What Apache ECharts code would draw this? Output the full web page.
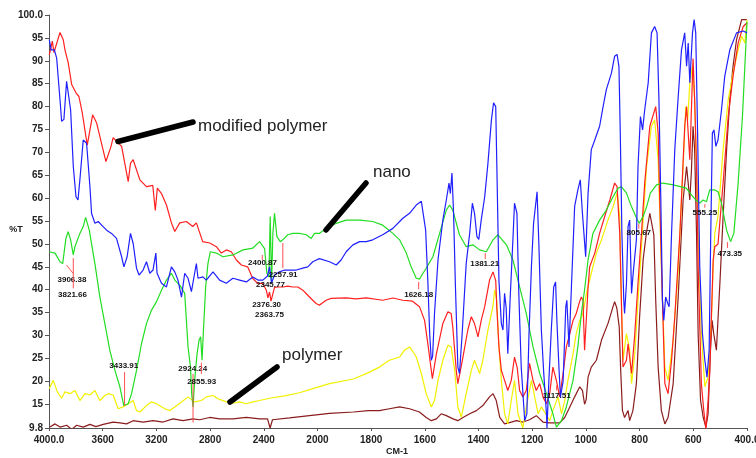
<!DOCTYPE html>
<html>
<head>
<meta charset="utf-8">
<script src="https://cdn.jsdelivr.net/npm/echarts@6/dist/echarts.min.js"></script>
<style>
html,body{margin:0;padding:0;background:#fff;}
#chart{width:756px;height:458px;}
</style>
</head>
<body>
<div id="chart"></div>
<script>
// ---- Data: [wavenumber (cm-1), %T] ----
const redData = [[3998,91.3],[3975,94.3],[3963,91.8],[3918,96.2],[3894,94.6],[3881,92.4],[3857,89.6],[3831,84.8],[3799,83],[3777,82.2],[3752,78.6],[3715,71.6],[3675,78.2],[3645,76.4],[3576,68],[3539,71.2],[3522,73.2],[3459,71.3],[3410,63.6],[3393,67.6],[3373,68.4],[3323,64],[3274,62.5],[3227,62.8],[3208,57.3],[3193,62.2],[3162,61],[3125,58.5],[3088,54.6],[3063,52.7],[3026,54.6],[2976,54.9],[2929,53.8],[2902,54.6],[2855,50.5],[2803,50.2],[2753,49.4],[2716,48],[2679,48.7],[2642,48.3],[2604,46.5],[2567,45.4],[2520,45],[2483,42.5],[2446,41.4],[2407,41.4],[2381,39.9],[2369,38.2],[2357,39.5],[2346,37.5],[2320,40.5],[2295,40.6],[2258,40.6],[2221,40.8],[2184,40.6],[2146,40.6],[2109,39.9],[2072,38.8],[2035,37.7],[2010,37],[1993,36.6],[1968,37.7],[1949,38.1],[1893,38.2],[1856,38],[1818,38.2],[1757,37.7],[1719,38.2],[1682,37.7],[1646,37.5],[1620,36.3],[1601,33.3],[1589,28.3],[1572,20.6],[1557,26],[1533,32.6],[1514,35.2],[1502,34.8],[1496,31.9],[1483,22.4],[1477,19.5],[1458,25.3],[1440,31.2],[1427,34.1],[1415,32.6],[1402,29.7],[1390,33.3],[1377,36.3],[1359,42.1],[1346,43.9],[1336,42],[1332,36.3],[1324,27.5],[1315,22.4],[1303,20.2],[1291,18],[1278,20.2],[1266,25.3],[1256,23],[1247,18],[1235,16.6],[1222,18],[1210,23.9],[1197,20.2],[1185,18],[1172,19.5],[1160,16.6],[1147,15.1],[1135,17.3],[1123,23.1],[1110,20.2],[1098,16.6],[1085,21.7],[1073,27.5],[1060,30.4],[1048,33.3],[1036,34.8],[1023,37.5],[1017,38.4],[1011,37.7],[1005,26.8],[998,34.1],[992,40.6],[986,45],[967,48],[949,52.3],[930,56],[911,59.6],[893,63.3],[884,62.5],[874,52.3],[868,37.7],[862,23.1],[849,24.6],[843,28.2],[830,21.7],[818,30.4],[806,41.4],[793,52.3],[781,63.3],[762,75.7],[740,80],[731,74.2],[725,59.6],[715,37.7],[706,19.5],[694,17.3],[681,24.6],[669,34.1],[650,52.3],[632,75.7],[625,80],[613,68.4],[601,90.5],[595,81.5],[588,66.9],[582,45],[570,19.5],[561,13.6],[553,9.5],[545,15.8],[539,22],[526,46.5],[520,49.4],[508,50],[489,63.3],[470,77.8],[452,86.6],[433,93.9],[414,97.5],[400,98.3]];

const blueData = [[3998,94.6],[3984,92.4],[3960,92.4],[3943,90.6],[3918,81.5],[3906,76.8],[3889,77.2],[3869,85.5],[3855,85.5],[3839,79.3],[3819,66.9],[3799,60.3],[3784,59.6],[3770,64],[3745,72.7],[3720,72],[3695,62.5],[3683,56.7],[3658,54.5],[3633,54.9],[3608,54.1],[3571,53],[3534,52.3],[3497,51.2],[3459,47.2],[3442,45],[3418,47.2],[3393,52.3],[3373,50.1],[3348,44.7],[3329,43.2],[3299,44.3],[3274,46.1],[3249,43.6],[3225,44.3],[3204,48],[3195,43.6],[3162,41.4],[3125,40.6],[3088,45],[3063,43.9],[3039,42.1],[3013,38.4],[2989,43.6],[2964,42.5],[2939,39.6],[2915,43.6],[2902,45.7],[2890,42.5],[2853,42.8],[2828,42.1],[2778,43.9],[2729,42.1],[2679,41.4],[2630,42.5],[2580,42.1],[2530,41.7],[2481,42.8],[2444,42.1],[2407,42.1],[2372,43],[2357,45],[2342,41.5],[2320,43.2],[2283,43.9],[2245,44.3],[2208,44.3],[2158,44.3],[2109,44.7],[2072,45],[2035,46.1],[1993,46.8],[1955,46.1],[1930,45.4],[1912,46.5],[1893,48.3],[1868,49.8],[1843,50.5],[1818,50.5],[1794,50.9],[1757,52],[1719,53.4],[1682,55.6],[1657,56.7],[1632,58.5],[1613,59.3],[1607,58.9],[1597,53],[1589,42.1],[1582,30.4],[1576,24.6],[1571,25.5],[1564,34.8],[1551,46.5],[1533,55.2],[1520,59.6],[1510,63.3],[1505,61],[1499,65.5],[1493,56.7],[1486,40.6],[1477,23.1],[1471,21.7],[1461,30.4],[1446,45.7],[1433,52.3],[1423,58.9],[1415,56.7],[1406,51.6],[1399,51],[1390,55.2],[1377,60.3],[1365,67.6],[1352,77.1],[1344,80.8],[1336,80],[1332,67.6],[1324,42.1],[1315,32.6],[1309,31.2],[1303,39.2],[1297,36],[1291,26],[1282,38.4],[1272,50.9],[1266,58.9],[1257,56.7],[1250,39.2],[1241,23.1],[1228,11.4],[1220,12.9],[1212,30.4],[1203,45],[1195,54.5],[1182,61.4],[1175,49.4],[1166,31.2],[1157,21.7],[1147,12.9],[1145,9.8],[1138,20.2],[1129,31.2],[1120,40.6],[1113,41.7],[1108,33],[1100,22.4],[1095,16.6],[1085,20],[1075,36.3],[1071,37.7],[1063,27.5],[1054,40.6],[1042,58.2],[1030,61.8],[1021,64],[1013,56.7],[1008,56.7],[1001,47.2],[992,61.1],[980,70.6],[967,72.7],[949,75.7],[936,80],[924,83.7],[905,87.3],[893,91],[884,91.4],[877,88.8],[872,74.2],[866,52.3],[859,37.7],[856,34.8],[849,41.4],[843,53.8],[837,55.2],[830,39.2],[824,43.6],[812,50.9],[806,66.9],[797,77.8],[789,74.9],[781,79.3],[768,85.2],[756,96.1],[744,97.5],[735,96.1],[728,81.5],[721,59.6],[715,37.7],[710,33.3],[703,38.4],[695,37],[690,36.3],[681,52.3],[669,70.6],[657,81.5],[644,92.4],[632,96.1],[625,88.8],[619,93.9],[613,85.2],[603,96.1],[597,99],[591,96.1],[584,74.2],[576,45],[566,30.4],[557,24.6],[549,20.9],[541,26.8],[535,52.3],[529,74.2],[523,74.9],[516,71.3],[508,72.7],[495,79.3],[483,86.6],[464,92.4],[439,96.1],[414,96.5],[400,96.1]];

const greenData = [[3998,48.3],[3955,48],[3918,46.1],[3898,45.7],[3874,51.2],[3857,52.7],[3839,50.9],[3819,47.6],[3807,49.4],[3770,52.3],[3745,53.8],[3727,55.8],[3700,53],[3658,45.7],[3621,38.4],[3584,32.6],[3547,26.8],[3509,22.4],[3472,18.8],[3443,14.7],[3410,15.1],[3385,17.3],[3348,22.4],[3311,28.2],[3274,32.6],[3237,35.5],[3199,37.4],[3162,39.9],[3125,42.1],[3088,43.6],[3063,42.1],[3026,41],[2989,39.2],[2964,27.5],[2946,23.1],[2937,17.3],[2927,14.4],[2915,20.2],[2897,26],[2882,29],[2870,29.7],[2860,24.6],[2848,31.9],[2833,40.6],[2816,45.7],[2798,48.3],[2753,48],[2704,47.2],[2630,47.6],[2555,48.7],[2481,49.1],[2431,50.5],[2407,49.5],[2394,49],[2377,43.6],[2362,42.8],[2352,56],[2342,41.4],[2332,52.3],[2320,56.7],[2302,51.6],[2277,50.5],[2258,50.9],[2221,52],[2184,52.3],[2134,52.3],[2084,52],[2047,51.2],[2022,52.3],[1993,52.3],[1968,53.4],[1930,54.5],[1893,55.2],[1843,55.2],[1794,54.9],[1757,54.1],[1719,52.3],[1694,50.9],[1669,48],[1651,45],[1632,42.5],[1620,42.3],[1607,43.6],[1595,44.7],[1570,47.2],[1545,52.3],[1520,57.4],[1508,58.5],[1496,57.4],[1471,52],[1446,49.4],[1421,49.8],[1396,48.7],[1371,48.3],[1346,50.9],[1328,52],[1296,49.8],[1272,46.5],[1247,40.6],[1222,34.8],[1197,27.5],[1172,21.7],[1147,17.3],[1123,12.9],[1110,10],[1091,11.4],[1073,14.4],[1048,20.2],[1030,27.5],[1017,34.8],[1005,40],[992,46.5],[974,52.3],[949,55.2],[924,57.4],[899,60.3],[880,62.2],[868,62.5],[849,61.1],[830,58.1],[814,56],[802,54.5],[787,56],[774,58.1],[760,61.1],[737,62.9],[713,63.3],[675,62.9],[626,62.2],[607,60.7],[591,59.6],[576,58.9],[564,59.6],[551,59.2],[539,61.8],[520,61.8],[508,61.4],[495,58.9],[476,53],[461,50.5],[449,52.3],[433,63.3],[417,77.8],[408,88.8],[402,96.1],[400,98.5]];

const yellowData = [[3998,18.4],[3968,20.2],[3938,17.7],[3906,16.3],[3881,17.7],[3844,17.3],[3807,18],[3770,15.8],[3732,17.3],[3695,17],[3658,18],[3621,15.8],[3584,16.9],[3559,17.3],[3522,17],[3485,14],[3448,14.4],[3410,15.1],[3373,15.8],[3348,13.6],[3323,13.3],[3274,14.7],[3237,15.5],[3199,15.1],[3138,14],[3100,13.6],[3063,14.4],[3013,15.5],[2964,16.6],[2915,15.5],[2865,15.8],[2827,16.6],[2778,16.9],[2741,16.2],[2679,15.5],[2630,15.2],[2580,15.5],[2530,15.1],[2481,15.5],[2431,15.8],[2357,16.3],[2245,16.8],[2134,17.5],[2022,18.5],[1955,19.5],[1866,20.5],[1806,22],[1769,23.1],[1732,24.6],[1694,25.3],[1676,26.8],[1657,27.5],[1645,26.5],[1632,25.3],[1613,21.7],[1595,17.3],[1576,14.4],[1564,15.8],[1551,20.2],[1533,24.6],[1514,27.9],[1502,27.5],[1489,22.4],[1477,14.4],[1464,12.2],[1446,17.3],[1427,22.4],[1415,24.6],[1396,21.7],[1384,24.6],[1365,31.2],[1346,36.5],[1340,40],[1333,38],[1324,27.5],[1315,20.2],[1303,12.9],[1291,10.7],[1278,15.8],[1266,20.2],[1253,12.9],[1235,9.8],[1222,14.4],[1203,20.2],[1191,16.6],[1178,12.9],[1166,14.4],[1150,12.9],[1135,11.4],[1123,13.6],[1104,16.6],[1091,12.9],[1079,15.8],[1067,20.2],[1048,26],[1036,30.4],[1023,33.3],[1011,34.8],[998,39.2],[980,43.6],[961,48],[942,50.9],[918,55.2],[899,58.1],[884,61.1],[874,56],[868,37.7],[862,24.6],[849,30.4],[837,26.8],[830,19.5],[818,26],[806,37.7],[793,49.4],[774,66.9],[756,75.7],[744,77.1],[731,68.4],[719,45],[706,23.1],[694,20.2],[675,29],[657,43.6],[638,66.9],[628,80],[621,77],[613,85.2],[603,88.8],[595,81.5],[588,66.9],[578,45],[570,30.4],[557,18.8],[545,20.9],[532,34.1],[526,45],[520,52.3],[508,56],[489,70.6],[470,81.5],[452,87.3],[433,92.4],[420,95.4],[408,93.9],[400,99]];

const maroonData = [[3993,10],[3955,10.7],[3918,10],[3868,10.4],[3831,9.5],[3794,10.4],[3745,10],[3695,10.6],[3651,10.1],[3596,10.6],[3522,11.1],[3472,10.9],[3422,10.7],[3373,11.4],[3299,11.1],[3225,11.4],[3150,11.1],[3076,11.8],[3001,11.4],[2927,11.8],[2877,11.6],[2803,12.1],[2729,11.8],[2630,11.8],[2530,12.1],[2431,11.8],[2372,11.8],[2353,9.8],[2335,11.6],[2208,12],[2060,12.5],[1955,13],[1866,13.3],[1810,13.6],[1769,13.6],[1732,14],[1694,14.4],[1657,14],[1620,13.3],[1595,12.1],[1576,11.4],[1557,11.8],[1539,12.9],[1520,12.5],[1495,11.8],[1477,11.4],[1458,12.1],[1433,12.9],[1408,13.6],[1384,14.7],[1359,16.6],[1346,17.3],[1334,15.8],[1321,12.1],[1303,10.7],[1278,11.1],[1259,11.4],[1235,11.1],[1210,11.6],[1185,12.5],[1172,11.8],[1160,11.1],[1135,10.9],[1098,10.9],[1079,12.1],[1060,14.4],[1042,16.6],[1023,18.8],[1013,18],[1005,15],[999,16],[992,20.9],[980,23.1],[961,24.6],[942,29],[918,32.6],[899,36.3],[893,37.4],[885,36],[876,31.9],[871,23.1],[864,13.6],[856,12.1],[843,13.6],[837,11.4],[825,13.6],[812,19.5],[800,34.1],[787,46.5],[775,52.3],[762,56.7],[755,56.5],[747,52],[740,37.7],[731,23.1],[719,13.6],[706,10.7],[694,12.1],[675,19.5],[657,37.7],[638,59.6],[625,66.9],[613,59.6],[607,66],[601,75.7],[595,70.6],[588,52.3],[582,30.4],[573,15.8],[563,12.1],[553,10],[545,12.9],[536,26.8],[530,33.3],[524,30.4],[514,26.8],[501,41.4],[489,56],[476,70.6],[464,81.5],[452,88.8],[439,94.6],[420,99],[400,99]];

// Peak annotations (wavenumber, %T)
const peakText = ['3906.38','3821.66','3433.91','2924.24','2855.93','2400.87','2257.91','2345.77','2376.30','2363.75','1626.18','1381.21','1117.51','805.67','555.25','473.35'];
const peakTextPos = [[3829,42.1],[3825,38.8],[3443,23.3],[2929,22.7],[2863,19.9],[2409,45.8],[2256,43.2],[2350,41.0],[2379,36.6],[2357,34.6],[1623,38.8],[1377,45.6],[1109,16.9],[803,52.4],[557,56.8],[464,47.8]];
const peakMarks = [[3870,45.4,3821,43.6],[3819,46.9,3819,40.3],[3437,22.0,3437,14.7],[2927,21.6,2927,11.0],[2865,24.1,2865,21.6],[2411,47.6,2411,46.5],[2258,50.2,2258,44.7],null,null,null,[1623,41.7,1623,40.1],[1375,48.0,1375,46.7],[1109,19.1,1109,18.0],[803,54.4,803,53.3],[557,58.7,557,57.9],[473,50.4,473,49.1]];

// x tick labels (wavenumbers) and y tick labels
const xTicks = [4000,3600,3200,2800,2400,2000,1800,1600,1400,1200,1000,800,600,400];
const yTicks = [9.8,15,20,25,30,35,40,45,50,55,60,65,70,75,80,85,90,95,100];

// Axis break: 4000-2000 region compressed by 2 relative to 2000-400
function tx(wn){ return wn <= 2000 ? wn : 2000 + (wn - 2000) / 2; }
function itx(t){ return t <= 2000 ? t : 2000 + (t - 2000) * 2; }

const chart = echarts.init(document.getElementById('chart'), null, {renderer:'canvas'});
const tickFont = {fontFamily:'Liberation Sans', fontWeight:'bold', fontSize:10, color:'#222'};

function lineSeries(name, data, color, width){
  return {
    name, type:'line', data: data.map(p => [tx(p[0]), p[1]]),
    showSymbol:false, symbol:'none', smooth:false, animation:false,
    lineStyle:{color, width: width || 1.2}, z:2
  };
}

const option = {
  animation:false,
  backgroundColor:'#fff',
  grid:{left:49, right:9, top:15, bottom:30, containLabel:false, outerBoundsMode:'none'},
  xAxis:{
    type:'value', inverse:true, min:400, max:3000, interval:200,
    axisLine:{show:true, lineStyle:{color:'#555', width:1}},
    axisTick:{show:true, length:3, lineStyle:{color:'#555'}, customValues: xTicks.map(tx)},
    splitLine:{show:false},
    axisLabel:Object.assign({margin:7, customValues: xTicks.map(tx), hideOverlap:false, showMinLabel:true, showMaxLabel:true,
      formatter: v => { const w = Math.round(itx(v)); return (w===4000||w===400) ? w.toFixed(1) : String(w); }}, tickFont)
  },
  yAxis:{
    type:'value', min:9.8, max:100,
    axisLine:{show:true, lineStyle:{color:'#555', width:1}},
    axisTick:{show:true, length:4, lineStyle:{color:'#555'}, customValues:yTicks},
    splitLine:{show:false},
    axisLabel:Object.assign({margin:6, customValues:yTicks,
      formatter: v => v===100 ? '100.0' : String(v)}, tickFont)
  },
  series:[
    lineSeries('polymer', maroonData, '#8b1c1c'),
    lineSeries('yellow', yellowData, '#f2f000'),
    lineSeries('modified polymer', redData, '#ff2020'),
    lineSeries('nano', greenData, '#22dd22'),
    lineSeries('blue', blueData, '#2020ff'),
    {
      type:'custom', animation:false, z:5, clip:false,
      data: peakTextPos.map(p => [tx(p[0]), p[1]]),
      renderItem:(params, api) => {
        const i = params.dataIndex;
        const p = api.coord([api.value(0), api.value(1)]);
        const children = [];
        const m = peakMarks[i];
        if (m){
          const a = api.coord([tx(m[0]), m[1]]);
          const b = api.coord([tx(m[2]), m[3]]);
          children.push({type:'line', shape:{x1:a[0],y1:a[1],x2:b[0],y2:b[1]}, style:{stroke:'#ff5050', lineWidth:1}});
        }
        children.push({type:'text', style:{text:peakText[i], x:p[0], y:p[1], align:'center', verticalAlign:'middle',
          font:'bold 8px "Liberation Sans"', fill:'#111'}});
        return {type:'group', children};
      }
    }
  ],
  graphic:[
    {type:'text', style:{text:'%T', x:16, y:230, align:'center', verticalAlign:'middle', font:'bold 9px "Liberation Sans"', fill:'#222'}},
    {type:'text', style:{text:'CM-1', x:397, y:452, align:'center', verticalAlign:'middle', font:'bold 9px "Liberation Sans"', fill:'#222'}},
    {type:'line', shape:{x1:118,y1:141.5,x2:193,y2:122}, style:{stroke:'#000', lineWidth:5.5, lineCap:'round'}, z:10},
    {type:'text', style:{text:'modified polymer', x:198, y:135, font:'17px "Liberation Sans"', fill:'#222', verticalAlign:'bottom'}, z:10},
    {type:'line', shape:{x1:326,y1:230,x2:366,y2:183}, style:{stroke:'#000', lineWidth:5.5, lineCap:'round'}, z:10},
    {type:'text', style:{text:'nano', x:373, y:181, font:'17px "Liberation Sans"', fill:'#222', verticalAlign:'bottom'}, z:10},
    {type:'line', shape:{x1:230,y1:402,x2:277,y2:367}, style:{stroke:'#000', lineWidth:5.5, lineCap:'round'}, z:10},
    {type:'text', style:{text:'polymer', x:282, y:364, font:'17px "Liberation Sans"', fill:'#222', verticalAlign:'bottom'}, z:10}
  ]
};
chart.setOption(option);
</script>
</body>
</html>
